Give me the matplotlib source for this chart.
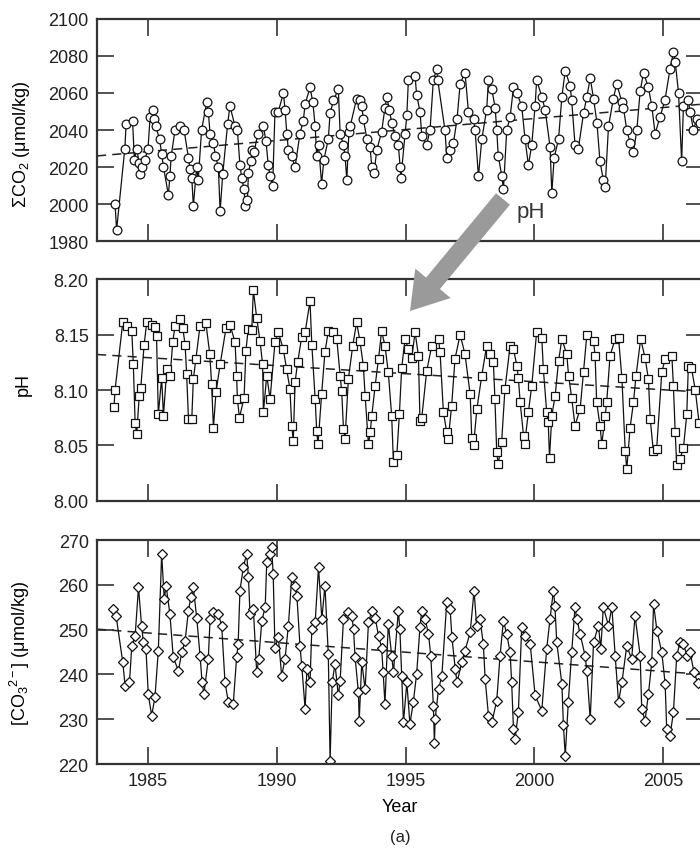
"""
BATS-style carbonate time series: DIC, pH and carbonate ion (panel a)
"""
import numpy as np
import matplotlib.pyplot as plt
from matplotlib.patches import FancyArrow

plt.rcParams['font.family'] = ['Liberation Sans', 'DejaVu Sans']
plt.rcParams['mathtext.fontset'] = 'custom'
plt.rcParams['mathtext.rm'] = 'Liberation Sans'
plt.rcParams['mathtext.it'] = 'Liberation Sans'

# --- data ---------------------------------------------------------------
dic_year = [1983.72, 1983.78, 1984.10, 1984.15, 1984.40, 1984.47, 1984.56, 1984.66, 1984.69, 1984.78,
            1984.88, 1985.00, 1985.08, 1985.20, 1985.25, 1985.30, 1985.45, 1985.53, 1985.60, 1985.79,
            1985.85, 1985.90, 1986.05, 1986.25, 1986.40, 1986.57, 1986.63, 1986.70, 1986.76, 1986.89,
            1986.95, 1987.08, 1987.28, 1987.34, 1987.41, 1987.54, 1987.62, 1987.73, 1987.80, 1987.90,
            1988.09, 1988.18, 1988.38, 1988.47, 1988.57, 1988.64, 1988.73, 1988.77, 1988.86, 1988.90,
            1988.99, 1989.05, 1989.12, 1989.26, 1989.48, 1989.58, 1989.67, 1989.74, 1989.84, 1989.93,
            1990.06, 1990.26, 1990.32, 1990.39, 1990.45, 1990.58, 1990.71, 1990.90, 1991.03, 1991.10,
            1991.29, 1991.40, 1991.49, 1991.55, 1991.62, 1991.74, 1991.83, 1992.00, 1992.07, 1992.20,
            1992.39, 1992.46, 1992.59, 1992.65, 1992.72, 1992.80, 1992.85, 1993.10, 1993.23, 1993.30,
            1993.36, 1993.50, 1993.62, 1993.69, 1993.78, 1993.88, 1994.07, 1994.20, 1994.27, 1994.37,
            1994.46, 1994.59, 1994.72, 1994.79, 1994.82, 1994.98, 1995.05, 1995.11, 1995.37, 1995.43,
            1995.56, 1995.63, 1995.82, 1995.95, 1996.08, 1996.21, 1996.25, 1996.53, 1996.60, 1996.73,
            1996.86, 1997.00, 1997.12, 1997.31, 1997.44, 1997.64, 1997.70, 1997.83, 1997.96, 1998.15,
            1998.22, 1998.35, 1998.48, 1998.54, 1998.60, 1998.74, 1998.80, 1998.93, 1999.06, 1999.19,
            1999.32, 1999.51, 1999.64, 1999.77, 1999.90, 2000.03, 2000.09, 2000.29, 2000.42, 2000.61,
            2000.68, 2000.77, 2000.94, 2001.07, 2001.20, 2001.39, 2001.45, 2001.58, 2001.71, 2001.91,
            2002.04, 2002.17, 2002.30, 2002.43, 2002.55, 2002.68, 2002.75, 2002.88, 2003.07, 2003.20,
            2003.40, 2003.46, 2003.59, 2003.72, 2003.85, 2003.98, 2004.11, 2004.24, 2004.43, 2004.56,
            2004.69, 2004.88, 2005.07, 2005.27, 2005.40, 2005.47, 2005.60, 2005.72, 2005.79, 2005.98,
            2006.05, 2006.18, 2006.30, 2006.42]
dic_val = [2000, 1986, 2030, 2043, 2045, 2024, 2030, 2022, 2016, 2020,
           2024, 2030, 2047, 2051, 2046, 2042, 2035, 2027, 2020, 2005,
           2015, 2026, 2040, 2042, 2040, 2025, 2019, 2014, 1999, 2020,
           2013, 2040, 2055, 2050, 2038, 2033, 2026, 2020, 1996, 2016,
           2043, 2053, 2042, 2040, 2021, 2014, 2008, 1999, 2002, 2017,
           2023, 2029, 2028, 2038, 2042, 2034, 2021, 2015, 2010, 2050,
           2050, 2060, 2051, 2038, 2029, 2026, 2020, 2038, 2045, 2054,
           2063, 2055, 2042, 2026, 2032, 2011, 2024, 2035, 2049, 2056,
           2062, 2038, 2032, 2026, 2013, 2039, 2042, 2057, 2056, 2053,
           2046, 2035, 2031, 2020, 2017, 2029, 2039, 2052, 2058, 2051,
           2044, 2037, 2032, 2020, 2014, 2038, 2048, 2067, 2069, 2059,
           2050, 2037, 2032, 2040, 2067, 2073, 2067, 2040, 2025, 2029,
           2033, 2046, 2065, 2071, 2050, 2046, 2040, 2015, 2035, 2051,
           2067, 2062, 2052, 2040, 2026, 2015, 2008, 2040, 2047, 2063,
           2060, 2053, 2035, 2021, 2032, 2053, 2067, 2058, 2051, 2031,
           2006, 2025, 2035, 2058, 2072, 2064, 2056, 2032, 2030, 2049,
           2058, 2068, 2057, 2044, 2023, 2013, 2009, 2042, 2057, 2065,
           2055, 2052, 2040, 2033, 2028, 2040, 2061, 2071, 2063, 2053,
           2038, 2047, 2056, 2073, 2082, 2077, 2060, 2023, 2053, 2056,
           2050, 2040, 2046, 2044]

ph_year = [1983.68, 1983.72, 1984.02, 1984.17, 1984.37, 1984.43, 1984.50, 1984.56, 1984.66, 1984.72,
           1984.85, 1984.95, 1985.14, 1985.27, 1985.33, 1985.40, 1985.53, 1985.60, 1985.73, 1985.86,
           1985.96, 1986.05, 1986.25, 1986.35, 1986.44, 1986.50, 1986.57, 1986.70, 1986.76, 1986.86,
           1987.02, 1987.25, 1987.40, 1987.47, 1987.54, 1987.64, 1987.80, 1988.03, 1988.18, 1988.38,
           1988.44, 1988.47, 1988.55, 1988.73, 1988.80, 1988.89, 1989.03, 1989.09, 1989.22, 1989.35,
           1989.45, 1989.48, 1989.61, 1989.74, 1989.93, 1990.06, 1990.25, 1990.38, 1990.51, 1990.58,
           1990.64, 1990.71, 1990.81, 1990.97, 1991.10, 1991.29, 1991.36, 1991.49, 1991.55, 1991.60,
           1991.74, 1991.87, 1992.00, 1992.20, 1992.33, 1992.46, 1992.52, 1992.59, 1992.65, 1992.78,
           1992.95, 1993.10, 1993.23, 1993.36, 1993.43, 1993.56, 1993.63, 1993.69, 1993.82, 1993.95,
           1994.07, 1994.20, 1994.33, 1994.46, 1994.53, 1994.66, 1994.76, 1994.85, 1994.98, 1995.11,
           1995.24, 1995.37, 1995.50, 1995.56, 1995.63, 1995.82, 1996.02, 1996.28, 1996.34, 1996.47,
           1996.60, 1996.66, 1996.79, 1996.92, 1997.12, 1997.31, 1997.51, 1997.57, 1997.64, 1997.77,
           1997.96, 1998.15, 1998.28, 1998.41, 1998.47, 1998.54, 1998.60, 1998.73, 1998.86, 1999.06,
           1999.19, 1999.32, 1999.38, 1999.45, 1999.58, 1999.62, 1999.77, 1999.90, 2000.09, 2000.29,
           2000.35, 2000.48, 2000.54, 2000.59, 2000.68, 2000.81, 2000.94, 2001.07, 2001.26, 2001.33,
           2001.45, 2001.58, 2001.78, 2001.91, 2002.04, 2002.30, 2002.36, 2002.42, 2002.55, 2002.62,
           2002.75, 2002.81, 2002.94, 2003.14, 2003.27, 2003.40, 2003.53, 2003.59, 2003.72, 2003.85,
           2003.95, 2004.13, 2004.30, 2004.43, 2004.50, 2004.62, 2004.75, 2004.95, 2005.08, 2005.34,
           2005.40, 2005.47, 2005.53, 2005.66, 2005.79, 2005.92, 2005.98, 2006.10, 2006.25, 2006.40]
ph_val = [8.085, 8.100, 8.161, 8.158, 8.153, 8.123, 8.070, 8.060, 8.095, 8.102,
          8.141, 8.161, 8.159, 8.157, 8.149, 8.078, 8.111, 8.077, 8.119, 8.113,
          8.143, 8.158, 8.164, 8.156, 8.141, 8.114, 8.074, 8.074, 8.110, 8.128,
          8.158, 8.160, 8.132, 8.105, 8.066, 8.098, 8.123, 8.156, 8.159, 8.143,
          8.113, 8.092, 8.075, 8.093, 8.135, 8.155, 8.154, 8.190, 8.165, 8.144,
          8.123, 8.080, 8.113, 8.092, 8.143, 8.152, 8.137, 8.119, 8.101, 8.068,
          8.054, 8.107, 8.125, 8.148, 8.152, 8.180, 8.141, 8.092, 8.063, 8.051,
          8.096, 8.134, 8.153, 8.152, 8.146, 8.113, 8.099, 8.065, 8.056, 8.110,
          8.140, 8.161, 8.144, 8.122, 8.095, 8.051, 8.062, 8.077, 8.104, 8.128,
          8.153, 8.140, 8.116, 8.077, 8.035, 8.041, 8.078, 8.120, 8.146, 8.137,
          8.129, 8.152, 8.131, 8.072, 8.075, 8.117, 8.140, 8.146, 8.134, 8.080,
          8.062, 8.056, 8.086, 8.128, 8.150, 8.132, 8.096, 8.057, 8.050, 8.083,
          8.113, 8.140, 8.132, 8.125, 8.092, 8.044, 8.033, 8.053, 8.101, 8.140,
          8.137, 8.122, 8.111, 8.089, 8.059, 8.051, 8.080, 8.104, 8.152, 8.147,
          8.119, 8.080, 8.071, 8.039, 8.077, 8.095, 8.126, 8.146, 8.132, 8.113,
          8.093, 8.068, 8.083, 8.116, 8.150, 8.144, 8.131, 8.089, 8.068, 8.051,
          8.077, 8.089, 8.131, 8.146, 8.147, 8.111, 8.045, 8.029, 8.066, 8.089,
          8.113, 8.146, 8.129, 8.110, 8.074, 8.045, 8.047, 8.116, 8.128, 8.131,
          8.104, 8.062, 8.032, 8.038, 8.048, 8.078, 8.122, 8.120, 8.100, 8.070]

co3_year = [1983.65, 1983.76, 1984.02, 1984.11, 1984.28, 1984.37, 1984.50, 1984.63, 1984.75, 1984.82,
            1984.92, 1985.01, 1985.14, 1985.27, 1985.40, 1985.53, 1985.63, 1985.70, 1985.85, 1985.98,
            1986.18, 1986.31, 1986.44, 1986.57, 1986.66, 1986.76, 1986.89, 1987.02, 1987.10, 1987.17,
            1987.34, 1987.41, 1987.54, 1987.73, 1987.86, 1987.99, 1988.12, 1988.31, 1988.44, 1988.50,
            1988.57, 1988.70, 1988.83, 1988.90, 1988.96, 1989.09, 1989.22, 1989.30, 1989.42, 1989.55,
            1989.61, 1989.74, 1989.80, 1989.86, 1989.93, 1990.06, 1990.19, 1990.32, 1990.45, 1990.58,
            1990.71, 1990.78, 1990.90, 1990.97, 1991.10, 1991.17, 1991.29, 1991.36, 1991.49, 1991.62,
            1991.75, 1991.87, 1992.00, 1992.07, 1992.15, 1992.26, 1992.39, 1992.46, 1992.59, 1992.78,
            1992.91, 1992.98, 1993.04, 1993.17, 1993.20, 1993.30, 1993.43, 1993.56, 1993.69, 1993.82,
            1993.95, 1994.07, 1994.13, 1994.20, 1994.33, 1994.46, 1994.53, 1994.72, 1994.78, 1994.85,
            1994.92, 1995.05, 1995.17, 1995.30, 1995.43, 1995.56, 1995.63, 1995.76, 1995.89, 1995.98,
            1996.08, 1996.12, 1996.15, 1996.28, 1996.41, 1996.60, 1996.73, 1996.80, 1996.93, 1997.00,
            1997.18, 1997.31, 1997.51, 1997.66, 1997.76, 1997.89, 1998.02, 1998.09, 1998.22, 1998.35,
            1998.54, 1998.67, 1998.80, 1998.93, 1999.06, 1999.12, 1999.19, 1999.25, 1999.38, 1999.51,
            1999.64, 1999.84, 2000.03, 2000.29, 2000.48, 2000.61, 2000.74, 2000.80, 2000.87, 2001.07,
            2001.13, 2001.20, 2001.32, 2001.45, 2001.58, 2001.65, 2001.78, 2001.97, 2002.04, 2002.17,
            2002.30, 2002.49, 2002.58, 2002.68, 2002.88, 2003.01, 2003.14, 2003.27, 2003.40, 2003.59,
            2003.78, 2003.91, 2004.11, 2004.17, 2004.30, 2004.43, 2004.56, 2004.63, 2004.76, 2004.95,
            2005.08, 2005.14, 2005.27, 2005.40, 2005.53, 2005.66, 2005.79, 2005.92, 2006.05, 2006.20,
            2006.35]
co3_val = [254.7, 253.1, 242.7, 237.5, 238.2, 246.4, 248.6, 259.4, 250.9, 247.2,
           245.7, 235.6, 230.8, 234.9, 245.3, 266.9, 256.8, 259.8, 253.5, 243.8,
           240.8, 244.9, 247.5, 254.2, 257.2, 259.4, 252.7, 244.2, 238.2, 235.6,
           243.4, 252.4, 253.9, 253.5, 250.9, 238.2, 233.8, 233.4, 243.8, 246.8,
           258.7, 263.9, 266.9, 261.7, 253.5, 254.6, 240.5, 243.4, 252.0, 255.0,
           265.0, 266.9, 268.4, 262.4, 246.0, 248.3, 239.7, 243.4, 250.9, 261.7,
           259.8, 257.6, 246.4, 241.9, 232.3, 241.2, 238.2, 250.1, 251.6, 263.9,
           252.4, 259.8, 244.6, 220.7, 238.2, 242.3, 235.3, 238.6, 252.4, 253.9,
           253.1, 250.1, 243.8, 236.0, 229.7, 242.7, 236.7, 251.6, 254.2, 252.7,
           248.6, 246.0, 240.5, 233.4, 251.3, 244.2, 240.5, 254.2, 250.1, 239.7,
           229.3, 238.2, 228.9, 233.8, 240.1, 250.5, 254.2, 252.4, 249.0, 244.2,
           233.0, 224.8, 230.0, 236.7, 239.7, 256.1, 254.6, 248.3, 241.2, 238.2,
           242.7, 245.3, 249.4, 258.7, 250.9, 252.4, 246.8, 239.0, 230.8, 229.3,
           234.1, 244.2, 252.0, 249.0, 244.9, 238.2, 227.8, 225.6, 231.5, 250.5,
           248.6, 246.8, 235.3, 231.9, 245.7, 252.4, 258.7, 255.3, 247.2, 237.9,
           228.6, 221.9, 233.8, 244.9, 255.0, 252.4, 249.0, 244.2, 240.8, 230.0,
           247.2, 250.9, 245.7, 255.0, 250.9, 255.0, 244.2, 233.8, 238.2, 246.4,
           243.4, 253.1, 244.2, 232.3, 229.7, 235.6, 242.7, 255.7, 249.8, 244.9,
           237.9, 227.8, 226.3, 231.5, 244.2, 247.2, 246.8, 244.2, 244.9, 240.5,
           238.0]

# dashed long-term trend lines (end points)
trend_year = [1983.02, 2006.55]
dic_trend = [2026, 2054]
ph_trend = [8.132, 8.098]
co3_trend = [250.1, 240.0]

xticks = [1985, 1990, 1995, 2000, 2005]

# --- figure -------------------------------------------------------------
fig = plt.figure(figsize=(7, 8.54), dpi=100)
ax1 = fig.add_axes([0.1386, 0.7166, 0.8657, 0.2600])
ax2 = fig.add_axes([0.1386, 0.4122, 0.8657, 0.2599])
ax3 = fig.add_axes([0.1386, 0.1042, 0.8657, 0.2623])

def draw(ax, yr, val, marker, ms, trend):
	order = np.argsort(yr)
	x = np.asarray(yr)[order]
	y = np.asarray(val)[order]
	ax.plot(trend_year, trend, color='#222222', lw=1.1, dashes=(6, 4), zorder=1)
	ax.plot(x, y, color='#111111', lw=0.9, marker=marker, ms=ms, mfc='white',
		mec='#111111', mew=0.9, zorder=2)
	ax.set_xlim(trend_year[0], trend_year[1])
	ax.set_xticks(xticks)
	ax.tick_params(direction='in', top=True, right=True, length=12, width=1.1,
		labelsize=13, colors='#222222', pad=6)
	for s in ax.spines.values():
		s.set_linewidth(1.6)
		s.set_color('#333333')

draw(ax1, dic_year, dic_val, 'o', 6.3, dic_trend)
ax1.set_ylim(1980, 2100)
ax1.set_yticks(np.arange(1980, 2101, 20))
ax1.set_ylabel('ΣCO$_2$ (μmol/kg)', fontsize=13)
ax1.tick_params(labelbottom=False)

draw(ax2, ph_year, ph_val, 's', 5.6, ph_trend)
ax2.set_ylim(8.00, 8.20)
ax2.set_yticks(np.arange(8.00, 8.201, 0.05))
ax2.set_yticklabels(['%.2f' % v for v in np.arange(8.00, 8.201, 0.05)])
ax2.set_ylabel('pH', fontsize=13)
ax2.tick_params(labelbottom=False)

draw(ax3, co3_year, co3_val, 'D', 5.4, co3_trend)
ax3.set_ylim(220, 270)
ax3.set_yticks(np.arange(220, 271, 10))
ax3.set_ylabel('[CO$_3$$^{2-}$] (μmol/kg)', fontsize=13)
ax3.set_xlabel('Year', fontsize=13, labelpad=6)

ax1.yaxis.set_label_coords(-0.108, 0.44)
ax2.yaxis.set_label_coords(-0.108, 0.53)
ax3.yaxis.set_label_coords(-0.108, 0.5)

fig.text(400 / 700, 1 - 838 / 854, '(a)', ha='center', va='center', fontsize=12, color='#222222')

# grey arrow pointing from the DIC rise to the pH decline
arrow = FancyArrow(5.03, 6.54, -0.93, -1.12, width=0.18, head_width=0.46, head_length=0.36,
	length_includes_head=True, transform=fig.dpi_scale_trans, color='#9a9a9a', lw=0, zorder=10)
fig.add_artist(arrow)
fig.text(531 / 700, 1 - 213 / 854, 'pH', ha='center', va='center', fontsize=16, color='#333333')

fig.savefig('out.png', dpi=100)
